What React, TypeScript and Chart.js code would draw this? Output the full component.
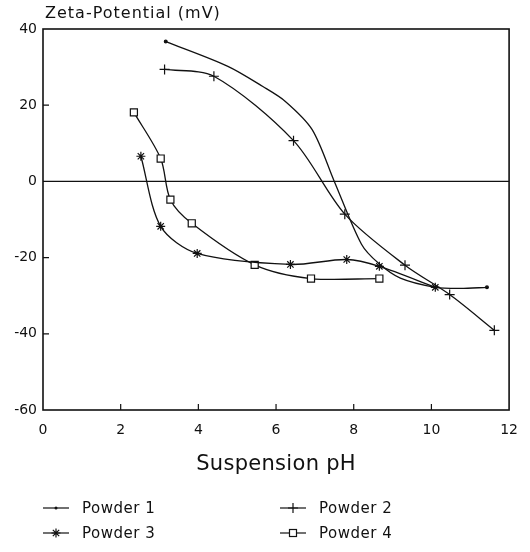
import React, { useEffect, useRef } from 'react';
import { Chart, registerables } from 'chart.js';

Chart.register(...registerables);

// ---- data ----
const seriesNames = ['Powder 1', 'Powder 2', 'Powder 3', 'Powder 4'];

const powder1X = [3.16, 4.76, 5.66, 6.24, 6.93, 7.5, 8.2, 8.64, 9.2, 10.1, 10.75, 11.43];
const powder1Y = [36.7, 30.2, 24.9, 21.0, 13.6, 0.0, -16.5, -21.5, -25.4, -27.8, -28.1, -27.8];

const powder2X = [3.13, 4.4, 6.45, 7.77, 9.32, 10.47, 11.62];
const powder2Y = [29.4, 27.6, 10.7, -8.6, -22.0, -29.7, -39.1];

const powder3X = [2.52, 3.03, 3.97, 6.37, 7.82, 8.66, 10.1];
const powder3Y = [6.6, -11.8, -18.9, -21.8, -20.5, -22.3, -27.8];

const powder4X = [2.34, 3.03, 3.28, 3.83, 5.45, 6.9, 8.66];
const powder4Y = [18.1, 6.0, -4.8, -11.0, -21.9, -25.5, -25.5];

const xMin = 0;
const xMax = 12;
const xStep = 2;
const yMin = -60;
const yMax = 40;
const yStep = 20;

const yTitle = 'Zeta-Potential (mV)';
const xTitle = 'Suspension pH';

const markerKinds = ['dot', 'plus', 'star', 'square'];

const FONT = '"DejaVu Sans", "Liberation Sans", sans-serif';
const INK = '#111';

function toPoints(xs: number[], ys: number[]) {
  return xs.map((x, i) => ({ x, y: ys[i] }));
}

function drawMarker(ctx: CanvasRenderingContext2D, kind: string, cx: number, cy: number) {
  ctx.beginPath();
  if (kind === 'dot') {
    ctx.arc(cx, cy, 1.5, 0, Math.PI * 2);
    ctx.fillStyle = INK;
    ctx.fill();
    return;
  }
  if (kind === 'plus') {
    ctx.moveTo(cx - 5, cy);
    ctx.lineTo(cx + 5, cy);
    ctx.moveTo(cx, cy - 5);
    ctx.lineTo(cx, cy + 5);
    ctx.stroke();
    return;
  }
  if (kind === 'star') {
    const r = 4.5;
    const d = r * Math.SQRT1_2;
    ctx.moveTo(cx - r, cy);
    ctx.lineTo(cx + r, cy);
    ctx.moveTo(cx, cy - r);
    ctx.lineTo(cx, cy + r);
    ctx.moveTo(cx - d, cy - d);
    ctx.lineTo(cx + d, cy + d);
    ctx.moveTo(cx - d, cy + d);
    ctx.lineTo(cx + d, cy - d);
    ctx.stroke();
    return;
  }
  if (kind === 'square') {
    ctx.fillStyle = '#fff';
    ctx.fillRect(cx - 3.5, cy - 3.5, 7, 7);
    ctx.strokeRect(cx - 3.5, cy - 3.5, 7, 7);
  }
}

const decorPlugin = {
  id: 'decor',
  beforeDatasetsDraw(chart: any) {
    const { ctx, chartArea: a, scales } = chart;
    const xs = scales.x;
    const ys = scales.y;
    ctx.save();
    ctx.strokeStyle = INK;
    // zero line
    ctx.lineWidth = 1.2;
    const y0 = ys.getPixelForValue(0);
    ctx.beginPath();
    ctx.moveTo(a.left, y0);
    ctx.lineTo(a.right, y0);
    ctx.stroke();
    // frame
    ctx.lineWidth = 1.6;
    ctx.strokeRect(a.left, a.top, a.right - a.left, a.bottom - a.top);
    // inner tick marks
    ctx.lineWidth = 1.2;
    ctx.beginPath();
    for (let v = yMin + yStep; v < yMax; v += yStep) {
      if (v === 0) continue;
      const py = ys.getPixelForValue(v);
      ctx.moveTo(a.left, py);
      ctx.lineTo(a.left + 6, py);
    }
    for (let v = xMin + xStep; v < xMax; v += xStep) {
      const px = xs.getPixelForValue(v);
      ctx.moveTo(px, a.bottom);
      ctx.lineTo(px, a.bottom - 6);
    }
    ctx.stroke();
    ctx.restore();
  },
  afterDraw(chart: any) {
    const { ctx, chartArea: a } = chart;
    ctx.save();
    ctx.fillStyle = INK;
    ctx.strokeStyle = INK;
    // y title (top-left)
    ctx.font = `16px ${FONT}`;
    (ctx as any).letterSpacing = '1px';
    ctx.textAlign = 'left';
    ctx.textBaseline = 'middle';
    ctx.fillText(yTitle, 45, 14);
    // x title
    (ctx as any).letterSpacing = '0.3px';
    ctx.font = `21px ${FONT}`;
    ctx.textAlign = 'center';
    ctx.fillText(xTitle, (a.left + a.right) / 2, 465);
    // legend
    (ctx as any).letterSpacing = '0.5px';
    ctx.font = `15px ${FONT}`;
    ctx.textAlign = 'left';
    const colX = [43, 280];
    const rowY = [508, 533];
    ctx.lineWidth = 1.2;
    seriesNames.forEach((name, i) => {
      const sx = colX[i % 2];
      const sy = rowY[Math.floor(i / 2)];
      ctx.beginPath();
      ctx.moveTo(sx, sy);
      ctx.lineTo(sx + 26, sy);
      ctx.stroke();
      drawMarker(ctx, markerKinds[i], sx + 13, sy);
      ctx.fillStyle = INK;
      ctx.fillText(name, sx + 39, sy + 1);
    });
    ctx.restore();
  },
};

const pointStyleFor: Record<string, any> = {
  dot: 'circle',
  plus: 'cross',
  star: 'star',
  square: 'rect',
};
const pointRadiusFor: Record<string, number> = {
  dot: 1.4,
  plus: 5,
  star: 4.5,
  square: 5,
};

export default function App() {
  const canvasRef = useRef<HTMLCanvasElement | null>(null);

  useEffect(() => {
    const canvas = canvasRef.current;
    if (!canvas) return;
    const seriesData = [
      toPoints(powder1X, powder1Y),
      toPoints(powder2X, powder2Y),
      toPoints(powder3X, powder3Y),
      toPoints(powder4X, powder4Y),
    ];
    const datasets = seriesData.map((data, i) => {
      const kind = markerKinds[i];
      // the fitted curve of Powder 1 only shows dots at its two ends
      const radius =
        kind === 'dot'
          ? data.map((_, j) => (j === 0 || j === data.length - 1 ? pointRadiusFor[kind] : 0))
          : pointRadiusFor[kind];
      return {
        label: seriesNames[i],
        data,
        borderColor: INK,
        borderWidth: 1.3,
        backgroundColor: INK,
        pointStyle: pointStyleFor[kind],
        pointRadius: radius,
        pointBorderColor: INK,
        pointBackgroundColor: kind === 'square' ? '#fff' : INK,
        pointBorderWidth: 1.2,
        tension: 0.3,
        fill: false,
      };
    });

    const chart = new Chart(canvas, {
      type: 'line',
      data: { datasets },
      options: {
        animation: false,
        responsive: false,
        maintainAspectRatio: false,
        events: [],
        layout: { padding: { left: 0, right: 16, top: 29, bottom: 0 } },
        plugins: {
          legend: { display: false },
          tooltip: { enabled: false },
          title: { display: false },
        },
        scales: {
          x: {
            type: 'linear',
            min: xMin,
            max: xMax,
            grid: { display: false, drawTicks: false },
            border: { display: false },
            ticks: {
              stepSize: xStep,
              color: INK,
              font: { family: FONT, size: 14 },
              padding: 12,
              maxRotation: 0,
            },
            afterFit(scale: any) {
              scale.height = 552 - 410;
            },
          },
          y: {
            type: 'linear',
            min: yMin,
            max: yMax,
            grid: { display: false, drawTicks: false },
            border: { display: false },
            ticks: {
              stepSize: yStep,
              color: INK,
              font: { family: FONT, size: 14 },
              padding: 6,
            },
            afterFit(scale: any) {
              scale.width = 43;
            },
          },
        },
      },
      plugins: [decorPlugin],
    });

    return () => chart.destroy();
  }, []);

  return (
    <div style={{ position: 'absolute', left: 0, top: 0, width: 530, height: 552, background: '#fff' }}>
      <canvas ref={canvasRef} width={530} height={552} style={{ width: 530, height: 552, display: 'block' }} />
    </div>
  );
}
